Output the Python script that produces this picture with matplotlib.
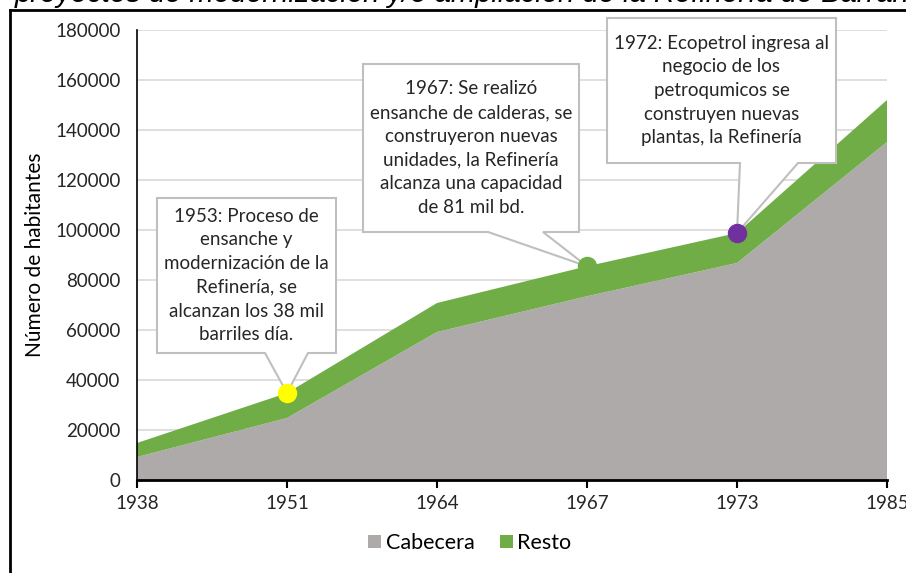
import matplotlib.pyplot as plt
import numpy as np
from matplotlib.patches import Polygon, Patch
from matplotlib.lines import Line2D

# Datos
anios = ['1938', '1951', '1964', '1967', '1973', '1985']
cabecera = [9200, 24800, 59200, 73500, 86800, 135200]
resto = [5600, 10000, 11600, 12000, 12000, 16800]

# hitos señalados (índice del año, color del punto, texto)
hitos_idx = [1, 3, 4]
hitos_color = ['#FFFF00', '#70AD47', '#7030A0']
hitos_texto = [
    '1953: Proceso de\nensanche y\nmodernización de la\nRefinería, se\nalcanzan los 38 mil\nbarriles día.',
    '1967: Se realizó\nensanche de calderas, se\nconstruyeron nuevas\nunidades, la Refinería\nalcanza una capacidad\nde 81 mil bd.',
    '1972: Ecopetrol ingresa al\nnegocio de los\npetroqumicos se\nconstruyen nuevas\nplantas, la Refinería',
]

titulo = 'proyectos de modernización y/o ampliación de la Refinería de Barrancabermeja'

GRIS = '#AEAAAA'
VERDE = '#70AD47'
W, H = 906, 573

plt.rcParams['font.family'] = ['Lato', 'DejaVu Sans']


def fx(px):
    return px / W


def fy(py):
    return 1 - py / H


fig = plt.figure(figsize=(W / 100, H / 100), dpi=100)
ax = fig.add_axes([fx(137), fy(480), fx(887) - fx(137), fy(30) - fy(480)])

x = np.arange(len(anios))
ax.stackplot(x, cabecera, resto, colors=[GRIS, VERDE], linewidth=0, zorder=2)

ax.set_xlim(0, len(anios) - 1)
ax.set_ylim(0, 180000)
ax.set_yticks(np.arange(0, 180001, 20000))
ax.set_xticks(x)
ax.set_xticklabels(anios)
ax.grid(axis='y', color='#D9D9D9', linewidth=1.2, zorder=0)
ax.set_axisbelow(True)
for s in ['top', 'right']:
    ax.spines[s].set_visible(False)
ax.spines['bottom'].set_linewidth(2)
ax.spines['bottom'].set_zorder(6)
ax.spines['left'].set_linewidth(1.2)
ax.tick_params(axis='x', length=6, width=1.5, pad=5, labelsize=13.5)
ax.tick_params(axis='y', length=0, pad=12, labelsize=13.5)
for t in ax.get_xticklabels() + ax.get_yticklabels():
    t.set_color('#262626')

fig.text(fx(35), fy(255), 'Número de habitantes', rotation=90, ha='center',
         va='center', fontsize=15, color='#000000')

# puntos de los hitos sobre el total
totales = np.array(cabecera) + np.array(resto)
for i, c in zip(hitos_idx, hitos_color):
    ax.plot(x[i], totales[i], 'o', color=c, markersize=13, zorder=7, clip_on=False)

# globos de texto (caja en píxeles, base del puntero, punta en el punto)
cajas = [(157, 198, 336, 353), (363, 64, 579, 232), (607, 18, 836, 163)]
bases = [(265, 308), (488, 543), (740, 798)]
for (L, T, R, B), (b1, b2), i, txt in zip(cajas, bases, hitos_idx, hitos_texto):
    tip = fig.transFigure.inverted().transform(ax.transData.transform((x[i], totales[i])))
    verts = [(fx(L), fy(T)), (fx(R), fy(T)), (fx(R), fy(B)), (fx(b2), fy(B)),
             tuple(tip), (fx(b1), fy(B)), (fx(L), fy(B))]
    poly = Polygon(verts, closed=True, facecolor='white', edgecolor='#BFBFBF',
                   linewidth=1.5, transform=fig.transFigure, clip_on=False, zorder=6)
    ax.add_patch(poly)
    ax.text(fx((L + R) / 2), fy((T + B) / 2), txt, transform=fig.transFigure,
            ha='center', va='center', fontsize=13.5, linespacing=1.48,
            color='#262626', zorder=8)

# leyenda
handles = [Patch(facecolor=GRIS, edgecolor='none', label='Cabecera'),
           Patch(facecolor=VERDE, edgecolor='none', label='Resto')]
fig.legend(handles=handles, loc='center', bbox_to_anchor=(fx(470), fy(543)),
           ncol=2, frameon=False, fontsize=15.5, handlelength=0.6, handleheight=0.6,
           handletextpad=0.2, columnspacing=1.2)

# título recortado y marco
fig.text(fx(15), fy(2), titulo, fontsize=21, style='italic', ha='left',
         va='baseline', family=['Liberation Sans', 'DejaVu Sans'])
fig.add_artist(Line2D([fx(10), fx(10)], [fy(10), 0], color='black', linewidth=2))
fig.add_artist(Line2D([fx(10), 1], [fy(10), fy(10)], color='black', linewidth=2))

fig.savefig('out.png', dpi=100)
